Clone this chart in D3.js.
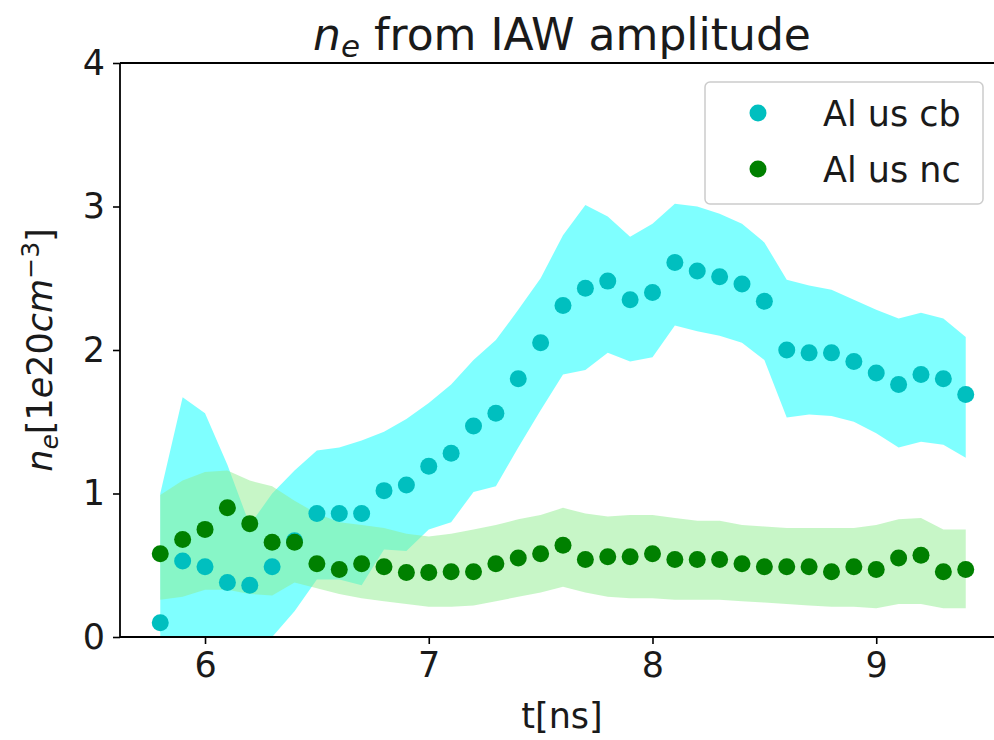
<!DOCTYPE html>
<html>
<head>
<meta charset="utf-8">
<script src="https://cdn.jsdelivr.net/npm/d3@7"></script>
<style>
  body { margin: 0; background: #fff; }
  svg text { font-family: "DejaVu Sans", sans-serif; fill: #1a1a1a; }
</style>
</head>
<body>
<svg id="graph"></svg>
<script>
// time axis, ns
let times = [5.8, 5.9, 6.0, 6.1, 6.2, 6.3, 6.4, 6.5, 6.6, 6.7, 6.8, 6.9, 7.0, 7.1, 7.2, 7.3, 7.4, 7.5, 7.6,
             7.7, 7.8, 7.9, 8.0, 8.1, 8.2, 8.3, 8.4, 8.5, 8.6, 8.7, 8.8, 8.9, 9.0, 9.1, 9.2, 9.3, 9.4]

// Al us cb
let cbValues = [0.10, 0.53, 0.49, 0.38, 0.36, 0.49, 0.67, 0.86, 0.86, 0.86, 1.02, 1.06, 1.19, 1.28, 1.47, 1.56, 1.80, 2.05, 2.31,
                2.43, 2.48, 2.35, 2.40, 2.61, 2.55, 2.51, 2.46, 2.34, 2.00, 1.98, 1.98, 1.92, 1.84, 1.76, 1.83, 1.80, 1.69]
let cbUpper = [1.00, 1.67, 1.56, 1.20, 0.78, 1.00, 1.16, 1.30, 1.32, 1.37, 1.43, 1.52, 1.63, 1.76, 1.93, 2.07, 2.28, 2.50, 2.80,
               3.01, 2.93, 2.79, 2.88, 3.02, 3.00, 2.95, 2.88, 2.75, 2.49, 2.45, 2.42, 2.35, 2.28, 2.22, 2.26, 2.22, 2.09]
let cbLower = [-0.50, -0.60, -0.58, -0.44, -0.10, 0.00, 0.18, 0.40, 0.40, 0.36, 0.61, 0.60, 0.75, 0.80, 1.01, 1.05, 1.32, 1.58, 1.83,
               1.86, 1.98, 1.92, 1.95, 2.17, 2.13, 2.10, 2.05, 1.93, 1.53, 1.55, 1.54, 1.50, 1.42, 1.32, 1.36, 1.34, 1.25]

// Al us nc
let ncValues = [0.58, 0.68, 0.75, 0.90, 0.79, 0.66, 0.66, 0.51, 0.47, 0.51, 0.49, 0.45, 0.45, 0.455, 0.455, 0.51, 0.55, 0.58, 0.64,
                0.54, 0.56, 0.56, 0.58, 0.54, 0.54, 0.54, 0.51, 0.49, 0.49, 0.49, 0.455, 0.49, 0.47, 0.55, 0.57, 0.455, 0.47]
let ncUpper = [0.99, 1.09, 1.15, 1.16, 1.09, 1.05, 0.95, 0.86, 0.80, 0.78, 0.76, 0.72, 0.70, 0.72, 0.75, 0.78, 0.82, 0.85, 0.90,
               0.86, 0.84, 0.85, 0.85, 0.83, 0.81, 0.81, 0.78, 0.77, 0.76, 0.76, 0.76, 0.76, 0.78, 0.82, 0.83, 0.75, 0.75]
let ncLower = [0.26, 0.28, 0.33, 0.33, 0.30, 0.29, 0.38, 0.34, 0.30, 0.27, 0.25, 0.23, 0.21, 0.21, 0.22, 0.25, 0.28, 0.31, 0.35,
               0.31, 0.28, 0.27, 0.27, 0.26, 0.26, 0.26, 0.25, 0.24, 0.23, 0.22, 0.21, 0.21, 0.20, 0.23, 0.23, 0.20, 0.20]

let xTicks = [6, 7, 8, 9]
let yTicks = [0, 1, 2, 3, 4]
let seriesNames = ['Al us cb', 'Al us nc']

function drawGraph() {
    let margin = {top: 63, left: 120}
    let fullWidth = 994
    let fullHeight = 740
    // the right spine sits just past the edge of the picture
    let width = 886
    let height = 574

    let svg = d3.select('svg#graph')
                .attr('width', fullWidth)
                .attr('height', fullHeight)

    svg.append('rect')
       .attr('width', fullWidth)
       .attr('height', fullHeight)
       .attr('fill', '#fff')

    let x = d3.scaleLinear().domain([5.62, 9.58]).range([0, width])
    let y = d3.scaleLinear().domain([0, 4]).range([height, 0])

    let graph = svg.append('g')
                   .attr('transform', 'translate(' + margin.left + ',' + margin.top + ')')

    svg.append('clipPath').attr('id', 'plotclip')
       .append('rect').attr('width', width).attr('height', height)

    let cb = times.map((t, i) => ({t, v: cbValues[i], lo: cbLower[i], hi: cbUpper[i]}))
    let nc = times.map((t, i) => ({t, v: ncValues[i], lo: ncLower[i], hi: ncUpper[i]}))

    let band = d3.area()
                 .x(d => x(d.t))
                 .y0(d => y(d.lo))
                 .y1(d => y(d.hi))

    let plot = graph.append('g').attr('clip-path', 'url(#plotclip)')

    plot.append('path').datum(cb).attr('d', band)
        .attr('fill', '#00ffff').attr('fill-opacity', 0.5)
    plot.append('path').datum(nc).attr('fill', '#90ee90').attr('fill-opacity', 0.5)
        .attr('d', band)

    let r = 8.5
    plot.selectAll('circle.cb').data(cb).join('circle')
        .attr('class', 'cb')
        .attr('cx', d => x(d.t)).attr('cy', d => y(d.v)).attr('r', r)
        .attr('fill', '#00bfbf')
    plot.selectAll('circle.nc').data(nc).join('circle')
        .attr('class', 'nc')
        .attr('cx', d => x(d.t)).attr('cy', d => y(d.v)).attr('r', r)
        .attr('fill', '#008000')

    // axes
    let xAxis = graph.append('g')
                     .attr('transform', 'translate(0,' + height + ')')
                     .call(d3.axisBottom(x).tickValues(xTicks).tickFormat(d3.format('d'))
                             .tickSize(7).tickPadding(8))
    let yAxis = graph.append('g')
                     .call(d3.axisLeft(y).tickValues(yTicks).tickFormat(d3.format('d'))
                             .tickSize(7).tickPadding(8))

    for (let ax of [xAxis, yAxis]) {
        ax.select('.domain').remove()
        ax.selectAll('.tick line').attr('stroke', '#000').attr('stroke-width', 1.6)
        ax.selectAll('.tick text').attr('font-size', 35).attr('fill', '#1a1a1a')
            .attr('font-family', '"DejaVu Sans", sans-serif')
    }

    // spines
    graph.append('line').attr('x1', 0).attr('x2', 0).attr('y1', 0).attr('y2', height)
         .attr('stroke', '#000').attr('stroke-width', 1.8)
    graph.append('line').attr('x1', 0).attr('x2', width).attr('y1', 0).attr('y2', 0)
         .attr('stroke', '#000').attr('stroke-width', 1.8)
    graph.append('line').attr('x1', 0).attr('x2', width).attr('y1', height).attr('y2', height)
         .attr('stroke', '#000').attr('stroke-width', 1.8)
    graph.append('line').attr('x1', width).attr('x2', width).attr('y1', 0).attr('y2', height)
         .attr('stroke', '#000').attr('stroke-width', 1.8)

    // title
    let title = svg.append('text')
                   .attr('x', 562).attr('y', 50)
                   .attr('text-anchor', 'middle').attr('font-size', 44)
    title.append('tspan').attr('font-style', 'italic').text('n')
    title.append('tspan').attr('font-style', 'italic').attr('font-size', 31).attr('dy', 7).text('e')
    title.append('tspan').attr('dy', -7).text(' from IAW amplitude')

    // x label
    svg.append('text')
       .attr('x', 562).attr('y', 728)
       .attr('text-anchor', 'middle').attr('font-size', 35)
       .text('t[ns]')

    // y label
    let ylab = svg.append('text')
                  .attr('transform', 'translate(52,' + (margin.top + height / 2) + ') rotate(-90)')
                  .attr('text-anchor', 'middle').attr('font-size', 35)
    ylab.append('tspan').attr('font-style', 'italic').text('n')
    ylab.append('tspan').attr('font-style', 'italic').attr('font-size', 25).attr('dy', 6).text('e')
    ylab.append('tspan').attr('dy', -6).text('[1')
    ylab.append('tspan').attr('font-style', 'italic').text('e')
    ylab.append('tspan').text('20')
    ylab.append('tspan').attr('font-style', 'italic').text('cm')
    ylab.append('tspan').attr('font-size', 25).attr('dy', -13).text('\u22123')
    ylab.append('tspan').attr('dy', 13).text(']')

    // legend
    let legend = svg.append('g').attr('transform', 'translate(705,82)')
    legend.append('rect')
          .attr('width', 278).attr('height', 122).attr('rx', 5)
          .attr('fill', '#fff').attr('fill-opacity', 0.8)
          .attr('stroke', '#cccccc').attr('stroke-width', 1.5)
    let colors = ['#00bfbf', '#008000']
    seriesNames.forEach((name, i) => {
        let row = legend.append('g').attr('transform', 'translate(0,' + (31 + i * 56) + ')')
        row.append('circle').attr('cx', 53).attr('cy', 0).attr('r', r).attr('fill', colors[i])
        row.append('text').attr('x', 118).attr('y', 13).attr('font-size', 35).text(name)
    })
}

drawGraph()
</script>
</body>
</html>
